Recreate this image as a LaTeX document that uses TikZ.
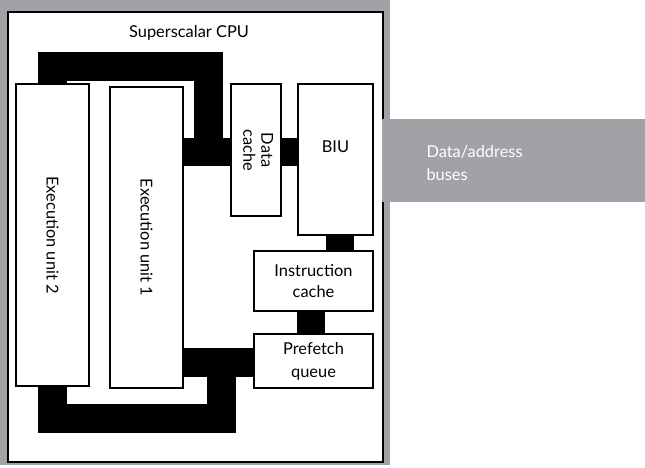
\documentclass[tikz,border=0pt]{standalone}
\usepackage{fontspec}
\setmainfont{Lato}
\definecolor{cpugray}{RGB}{161,162,166}
\begin{document}
\begin{tikzpicture}[x=1pt,y=-1pt,
  txt/.style={font=\fontsize{16.4}{21}\selectfont},
  box/.style={draw=black,line width=1.5pt,fill=white,inner sep=0pt,align=center,txt},
  bar/.style={draw=black,line width=29pt,line join=miter,line cap=butt},
  tbar/.style={draw=black,line width=28pt,line cap=butt}]
\useasboundingbox (0,0) rectangle (645,467);
\fill[white] (0,0) rectangle (645,467);
\fill[cpugray] (0,0) rectangle (390,465);
\draw[line width=2pt,fill=white] (8,12) rectangle (383,461.5);
\node[fill=cpugray,inner sep=0pt,minimum width=263pt,minimum height=83pt] (bus) at (513.5,160.5) {};
\node[txt,text=white,align=left,anchor=west,font=\fontsize{16.4}{23}\selectfont] (buslbl) at (423,163) {Data/address\\buses};
\node[txt,anchor=base] (title) at (189,37) {Superscalar CPU};
% boxes
\node[box,minimum width=73pt,minimum height=302pt] (eu2) at (52.5,235) {\rotatebox{-90}{Execution unit 2}};
\node[box,minimum width=73pt,minimum height=301pt] (eu1) at (146.5,237.5) {\rotatebox{-90}{Execution unit 1}};
\node[box,minimum width=50pt,minimum height=132pt] (dcache) at (256,150) {\rotatebox{-90}{\fontsize{16.4}{18}\selectfont\begin{tabular}{@{}c@{}}Data\\cache\end{tabular}}};
\node[box,minimum width=75pt,minimum height=151pt] (biu) at (335.5,159.5) {};
\node[txt,anchor=base] (biulbl) at (335.5,152) {BIU};
\node[box,minimum width=119pt,minimum height=60pt] (icache) at (313.5,281) {Instruction\\cache};
\node[box,minimum width=119pt,minimum height=54pt,font=\fontsize{16.4}{23}\selectfont] (pq) at (313.5,361) {Prefetch\\queue};
% bus bars
\coordinate (tj) at (208.5,66.5);
\coordinate (tjb) at (208.5,152);
\coordinate (bj) at (221.5,418.5);
\coordinate (bjt) at (221.5,362.5);
\draw[bar] (eu2.north) |- (tj) -- (tjb);
\draw[tbar] (eu1.east |- tjb) -- (dcache.west |- tjb);
\draw[tbar] (dcache.east |- tjb) -- (biu.west |- tjb);
\draw[tbar] ([xshift=4.5pt]biu.south) -- ([xshift=4.5pt]biu.south |- icache.north);
\draw[tbar] ([xshift=-2.5pt]icache.south) -- ([xshift=-2.5pt]icache.south |- pq.north);
\draw[bar] (eu1.east |- bjt) -- (pq.west |- bjt);
\draw[bar] (eu2.south) |- (bj) -- (bjt);
\end{tikzpicture}
\end{document}
